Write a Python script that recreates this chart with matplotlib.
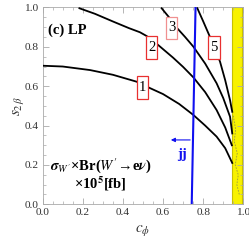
import matplotlib
matplotlib.use('Agg')
import matplotlib.pyplot as plt
import numpy as np
from matplotlib.ticker import MultipleLocator
from matplotlib.patches import Rectangle

plt.rcParams['font.family'] = ['Liberation Serif', 'DejaVu Serif']
plt.rcParams['mathtext.fontset'] = 'stix'

# contour curves of sigma x Br (x10^5 fb)
c1_x = [0.0, 0.1, 0.236, 0.35, 0.468, 0.527, 0.6, 0.68, 0.751, 0.81, 0.867, 0.91, 0.945]
c1_y = [0.704, 0.700, 0.682, 0.658, 0.623, 0.594, 0.56, 0.51, 0.454, 0.40, 0.344, 0.285, 0.21]
c2_x = [0.183, 0.26, 0.352, 0.43, 0.485, 0.518, 0.576, 0.65, 0.70, 0.751, 0.81, 0.867, 0.91, 0.943]
c2_y = [0.996, 0.968, 0.928, 0.895, 0.874, 0.855, 0.809, 0.745, 0.698, 0.645, 0.57, 0.479, 0.39, 0.30]
c3_x = [0.593, 0.63, 0.671, 0.71, 0.751, 0.81, 0.867, 0.90, 0.934, 0.945]
c3_y = [0.996, 0.95, 0.894, 0.85, 0.801, 0.715, 0.615, 0.54, 0.445, 0.36]
c5_x = [0.771, 0.80, 0.826, 0.855, 0.884, 0.91, 0.934, 0.945]
c5_y = [0.996, 0.93, 0.869, 0.80, 0.725, 0.63, 0.529, 0.47]
curves = [(c1_x, c1_y), (c2_x, c2_y), (c3_x, c3_y), (c5_x, c5_y)]

# boxed labels
label_text = ['1', '2', '3', '5']
label_x = [0.497, 0.543, 0.643, 0.853]
label_y = [0.595, 0.796, 0.896, 0.796]
label_edge = ['#e83030', '#e83030', '#f09090', '#e83030']

# dijet bound (blue line)
jj_x = [0.743, 0.762]
jj_y = [0.0, 1.0]

# yellow excluded band
band_x0, band_x1 = 0.942, 0.992

# noisy contour bits inside the band
noise_x = [0.95, 0.962, 0.955, 0.97, 0.96, 0.975, 0.968, 0.98]
noise_y = [0.45, 0.38, 0.32, 0.26, 0.20, 0.15, 0.10, 0.05]

fig = plt.figure(figsize=(2.49, 2.49), dpi=100)
ax = fig.add_axes([0.1715, 0.1795, 0.8055, 0.7905])

ax.axvspan(band_x0, band_x1, ymin=0, ymax=1, facecolor='#f8f200', edgecolor='#c8c000', lw=0.8, zorder=1)
ax.plot(noise_x, noise_y, color='#9a9a40', lw=0.6, ls=(0, (2, 1.5)), zorder=2)

for cx, cy in curves:
    ax.plot(cx, cy, color='black', lw=1.3, zorder=3, solid_joinstyle='round')

ax.plot(jj_x, jj_y, color='#1010f0', lw=1.5, zorder=4)
ax.annotate('', xy=(0.625, 0.327), xytext=(0.749, 0.327),
            arrowprops=dict(arrowstyle='-|>', color='#1010f0', lw=0.8,
                            mutation_scale=6), zorder=4)
ax.text(0.693, 0.255, 'jj', color='#1010f0', fontsize=10.5, fontweight='bold',
        ha='center', va='center')

bw, bh = 0.058, 0.115
for t, lx, ly, ec in zip(label_text, label_x, label_y, label_edge):
    ax.add_patch(Rectangle((lx - bw / 2, ly - bh / 2), bw, bh, fc='white',
                           ec=ec, lw=0.9, zorder=5))
    ax.text(lx, ly, t, fontsize=10.5, ha='center', va='center', zorder=6)

ax.text(0.12, 0.885, '(c) LP', fontsize=10.5, fontweight='bold',
        ha='center', va='center')
ax.text(0.29, 0.195, r"$\boldsymbol{\sigma}_{\boldsymbol{W'}}$" + u"\u00d7Br(" + r"$\boldsymbol{W'}$" + u"\u2192e" + r"$\boldsymbol{\nu}$" + ")",
        fontsize=10.5, fontweight='bold', ha='center', va='center')
ax.text(0.285, 0.107, u"\u00d710" + r"$^{\mathbf{5}}$" + "[fb]", fontsize=10.5,
        fontweight='bold', ha='center', va='center')

ax.set_xlim(0, 1)
ax.set_ylim(0, 1)
ax.xaxis.set_major_locator(MultipleLocator(0.2))
ax.yaxis.set_major_locator(MultipleLocator(0.2))
ax.xaxis.set_minor_locator(MultipleLocator(0.05))
ax.yaxis.set_minor_locator(MultipleLocator(0.05))
ax.xaxis.set_major_formatter(plt.FuncFormatter(lambda v, p: f'{v:.1f}'))
ax.yaxis.set_major_formatter(plt.FuncFormatter(lambda v, p: f'{v:.1f}'))
ax.tick_params(which='both', direction='in', top=True, right=True,
               color='#aaaaaa', labelcolor='#333333', labelsize=8.2)
ax.tick_params(which='major', length=4, width=0.6, pad=3)
ax.tick_params(which='minor', length=2, width=0.5)
for s in ax.spines.values():
    s.set_color('#aaaaaa')
    s.set_linewidth(0.6)

ax.set_xlabel(r'$c_{\phi}$', fontsize=11, color='#333333', labelpad=4)
ax.set_ylabel(r'$s_{2\,\beta}$', fontsize=11, color='#333333')
ax.yaxis.set_label_coords(-0.085, 0.5)

fig.savefig('out.png', dpi=100)
